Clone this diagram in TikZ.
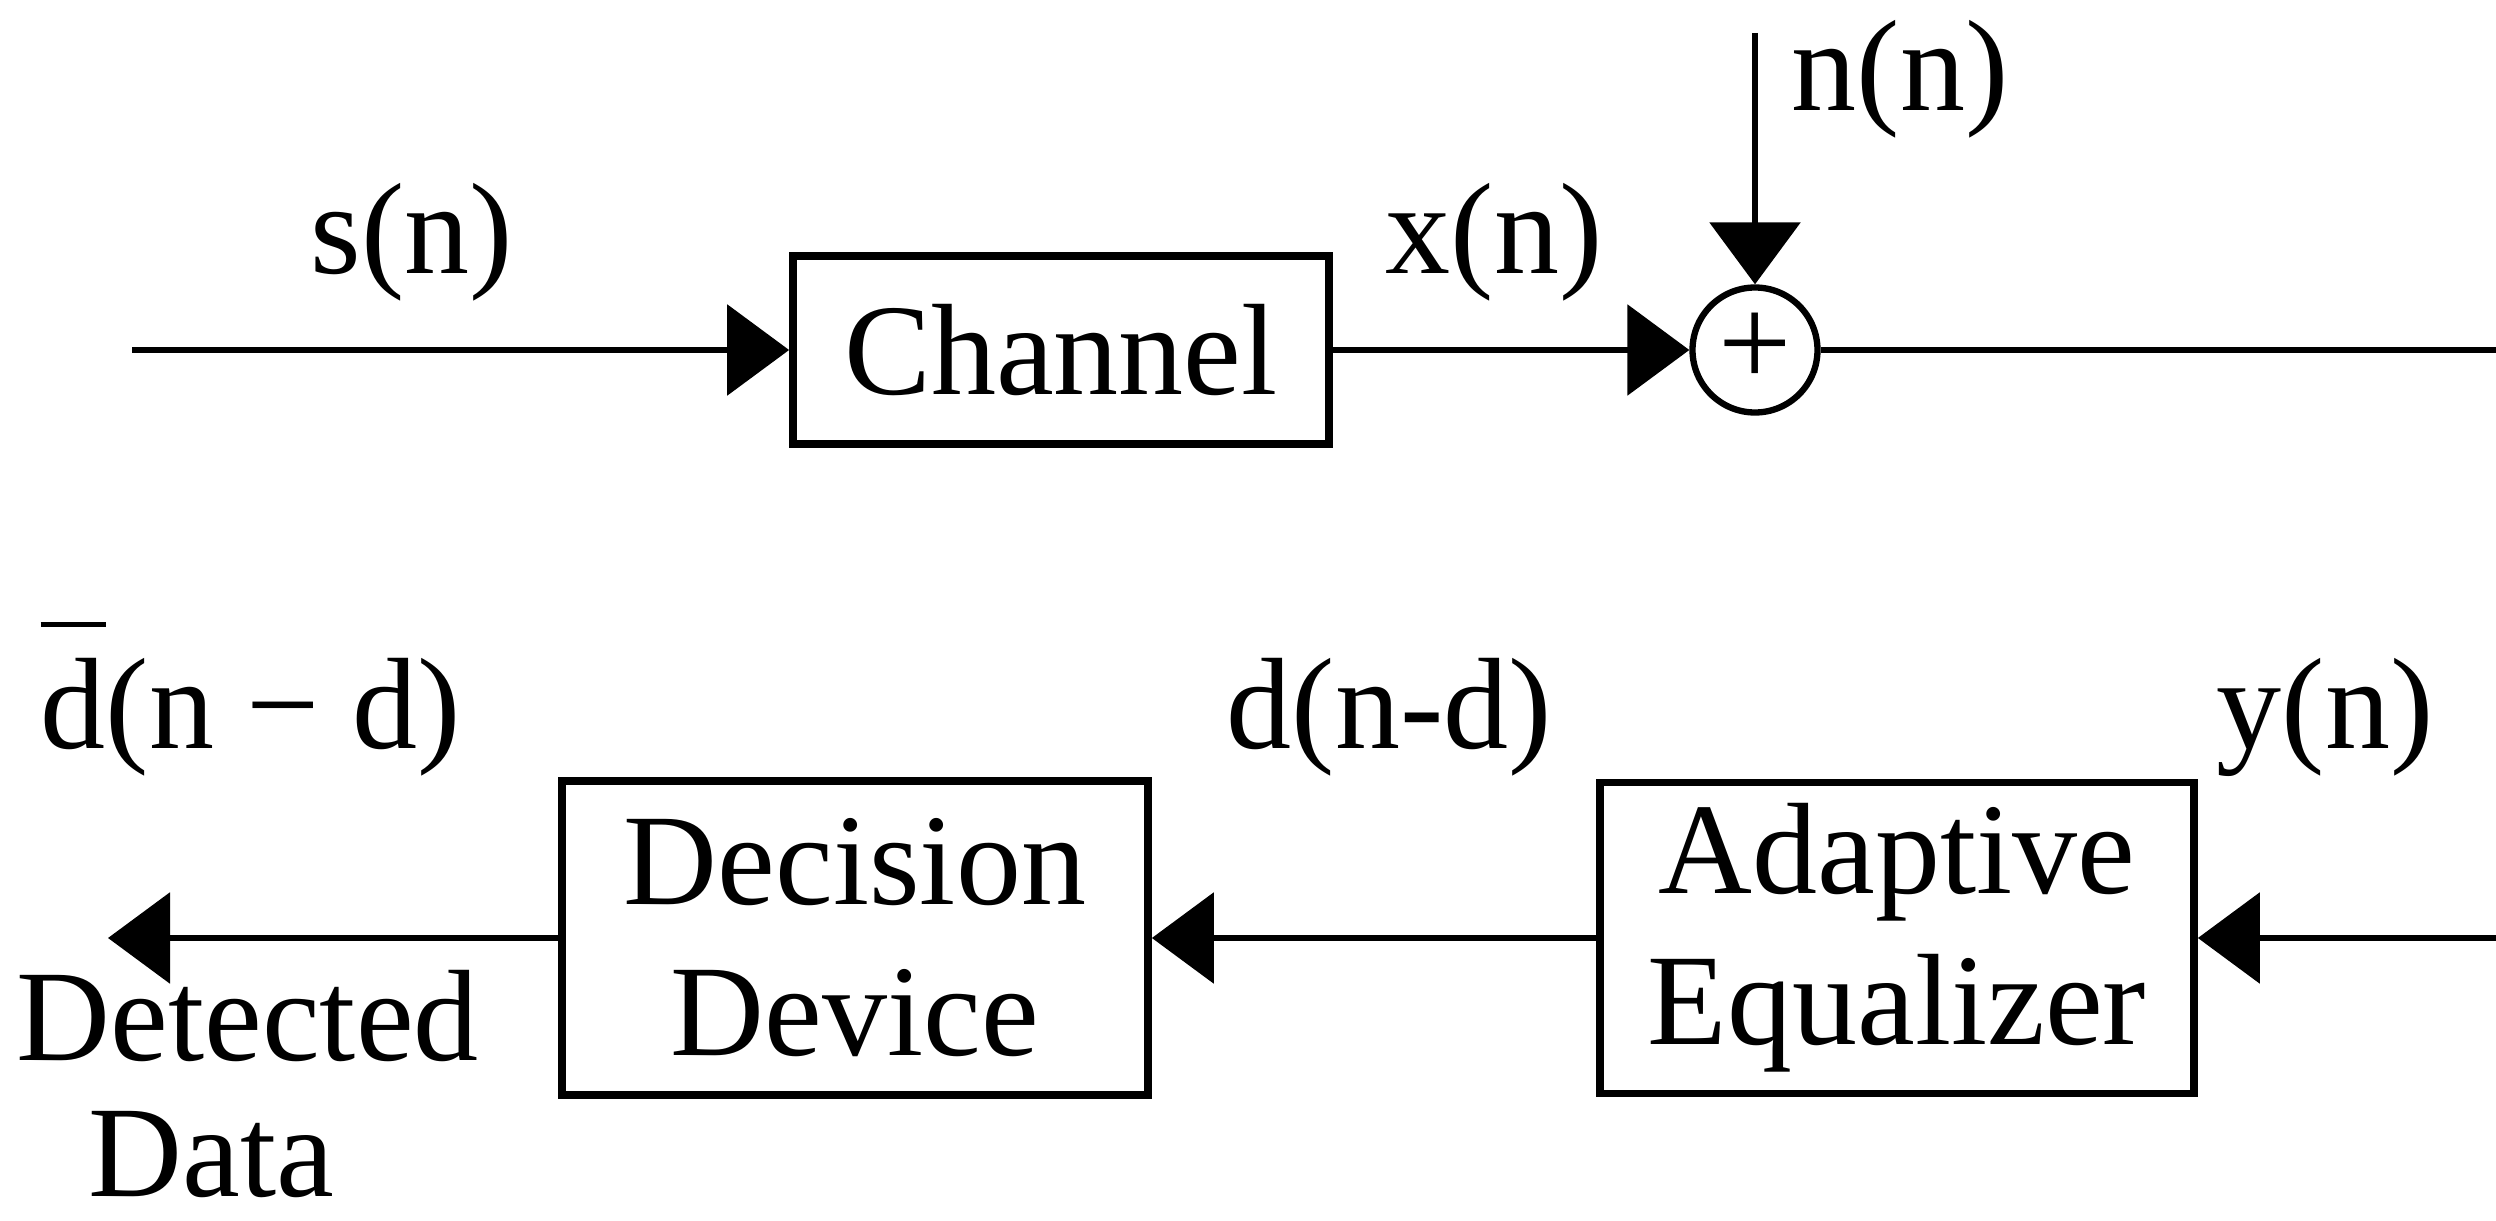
\documentclass[tikz,border=0pt]{standalone}
\usepackage{fontspec}
\setmainfont{Liberation Serif}
\usetikzlibrary{arrows.meta}

\begin{document}
\begin{tikzpicture}[
  block/.style={draw, line width=2.2pt, inner sep=0pt, align=center},
  sig/.style={line width=1.8pt, -{Triangle[length=0.62cm, width=0.9cm]}},
  lbl/.style={anchor=base west, inner sep=0pt},
  font=\fontsize{37}{43}\selectfont
]
\useasboundingbox (0,0) rectangle (24.96,12.20);

% upper row
\coordinate (in) at (1.32,8.70);
\node[block, minimum width=5.36cm, minimum height=1.88cm] (channel) at (10.61,8.70) {Channel};
\node[draw, circle, line width=1.8pt, minimum size=1.25cm, inner sep=0pt] (sum) at (17.55,8.70) {+};
\coordinate (noise) at (17.55,11.87);
% corner just past the right edge
\coordinate (ne) at (24.99,8.70);
\coordinate (se) at (24.99,2.82);

% lower row
\node[block, minimum width=5.94cm, minimum height=3.11cm] (equalizer) at (18.97,2.82) {Adaptive\\Equalizer};
\node[block, minimum width=5.86cm, minimum height=3.14cm] (decision) at (8.55,2.82) {Decision\\Device};
\coordinate (out) at (1.08,2.82);

% signal arrows
\draw[sig] (in) -- (channel);
\draw[sig] (channel) -- (sum);
\draw[sig] (noise) -- (sum);
\draw[sig] (sum) -- (ne) -- (se) -- (equalizer);
\draw[sig] (equalizer) -- (decision);
\draw[sig] (decision) -- (out);

% signal names
\node[lbl] (sn) at (3.10,9.46) {s(n)};
\node[lbl] (xn) at (13.85,9.46) {x(n)};
\node[lbl] (nn) at (17.91,11.09) {n(n)};
\node[lbl] (yn) at (22.16,4.72) {y(n)};
\node[lbl] (dn) at (12.26,4.72) {d(n-d)};
\node[lbl] (dbar) at (0.40,4.72) {\rlap{\rule[0.93em]{0.5em}{0.04em}}d(n − d)};
\node[lbl] (det) at (0.16,1.60) {Detected};
\node[lbl] (data) at (0.88,0.24) {Data};

\end{tikzpicture}
\end{document}
